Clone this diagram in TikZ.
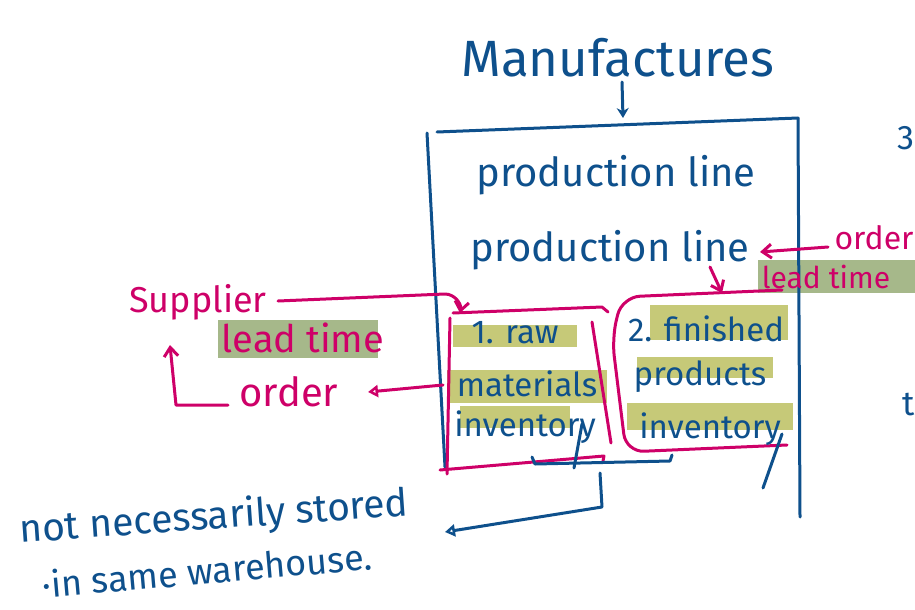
\documentclass[tikz,border=0pt]{standalone}
\usepackage{fontspec}
\setmainfont{Fira Sans}
\usetikzlibrary{arrows.meta}
\definecolor{ink}{RGB}{14,80,140}
\definecolor{mag}{RGB}{206,0,104}
\definecolor{hl}{RGB}{184,188,86}
\definecolor{hlg}{RGB}{150,172,118}
\begin{document}
\begin{tikzpicture}[x=1pt,y=-1pt,
  inkline/.style={draw=ink, line width=3pt, line cap=round, line join=round},
  magline/.style={draw=mag, line width=3pt, line cap=round, line join=round},
  inktext/.style={text=ink, inner sep=0pt, font=\fontsize{#1}{#1}\selectfont},
  magtext/.style={text=mag, inner sep=0pt, font=\fontsize{#1}{#1}\selectfont},
  hilite/.style={fill=hl, fill opacity=0.8, draw=none},
  hiliteg/.style={fill=hlg, fill opacity=0.85, draw=none},
  barb/.style={-{Straight Barb[length=9pt,width=14pt,line width=3pt]}},
  opentri/.style={-{Triangle[open,length=10pt,width=12pt,line width=3pt]}}
]
\useasboundingbox (0,0) rectangle (915,610);

% highlights
\fill[hilite] (453,325) rectangle (577,347);
\fill[hilite] (447,370) rectangle (607,403);
\fill[hilite] (460,406) rectangle (570,428);
\fill[hilite] (650,305) rectangle (788,340);
\fill[hilite] (637,357) rectangle (773,378);
\fill[hilite] (627,403) rectangle (793,430);
\fill[hiliteg] (218,320) rectangle (378,358);
\fill[hiliteg] (758,260) rectangle (915,293);

% title
\node[inktext=51] (title) at (618,58) {Manufactures};
\coordinate (titlearr) at (622,82);
\coordinate (boxtop) at (623,118);
\draw[inkline, -{Stealth[length=10pt,width=12pt]}] (titlearr) -- (boxtop);

% big box
\coordinate (bTL) at (427,133);
\coordinate (bTL2) at (437,132);
\coordinate (bTR) at (798,118);
\coordinate (bBL) at (445,467);
\coordinate (bBR) at (800,517);
\draw[inkline] (bTL2) -- (bTR);
\draw[inkline] (bTL) -- (bBL);
\draw[inkline] (bTR) -- (bBR);

\node[inktext=40] (pl1) at (616,175) {production line};
\node[inktext=40] (pl2) at (610,250) {production line};

% partial letters at right edge
\node[inktext=34, anchor=east] (three) at (915,138) {3};
\node[inktext=34, anchor=east] (tee) at (915,405) {t};

% left inner box (raw materials)
\draw[magline] (450,318) -- (447,474);
\draw[magline] (453,313) -- (602,307) -- (608,312);
\draw[magline] (592,322) -- (611,443);
\draw[magline] (440,470) -- (604,456) -- (603,461);
\node[inktext=33] (raw) at (515,333) {1. raw};
\node[inktext=33] (mat) at (527,384) {materials};
\node[inktext=33] (inv1) at (525,427) {inventory};

% right inner box (finished products)
\draw[magline, rounded corners=18pt] (782,290) -- (622,297) -- (612,338) -- (626,452) -- (787,445);
\node[inktext=33] (fin) at (706,329) {2. finished};
\node[inktext=33] (prod) at (700,377) {products};
\node[inktext=33] (inv2) at (710,429) {inventory};

% descender strokes
\draw[inkline] (582,424) -- (574,468);
\draw[inkline] (782,434) -- (763,488);

% supplier side
\node[magtext=36] (supp) at (198,302) {Supplier};
\node[magtext=38] (lt1) at (303,338) {lead time};
\node[magtext=40] (ord1) at (289,392) {order};
\coordinate (suppend) at (278,301);
\coordinate (rawin) at (460,313);
\draw[magline, barb] (suppend) -- (445,294) to[out=0,in=80] (rawin);
\coordinate (boxleft) at (443,385);
\draw[magline, opentri] (boxleft) -- (368,392);
\coordinate (ordhook) at (228,405);
\draw[magline, barb] (ordhook) -- (176,405) -- (170,345);

% customer side
\node[magtext=32] (ord2) at (874,238) {order};
\node[magtext=30] (lt2) at (826,277) {lead time};
\coordinate (ord2end) at (828,247);
\coordinate (pl2end) at (760,252);
\draw[magline, barb] (ord2end) -- (pl2end);
\coordinate (arrtop) at (710,267);
\coordinate (finin) at (722,293);
\draw[magline, barb] (arrtop) -- (finin);

% bracket and note
\draw[inkline] (532,457) -- (535,464) -- (670,461) -- (672,455);
\coordinate (brk) at (600,473);
\coordinate (notetip) at (445,532);
\draw[inkline, opentri] (brk) -- (602,507) -- (notetip);

\node[inktext=39, rotate=4] (note1) at (214,518) {not necessarily stored};
\node[inktext=36, rotate=5] (note2) at (207,570) {·in same warehouse.};
\end{tikzpicture}
\end{document}
